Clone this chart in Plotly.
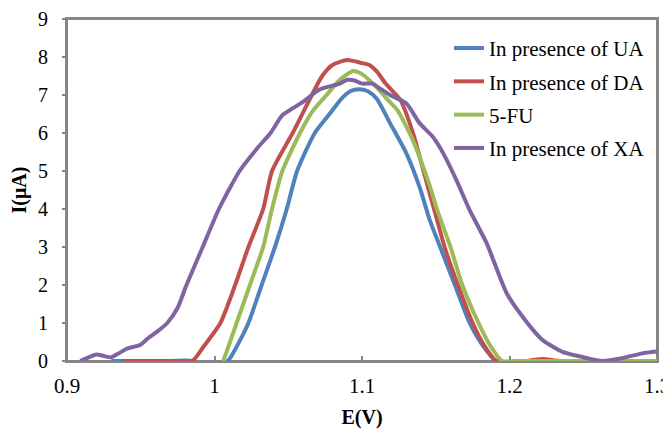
import plotly.graph_objects as go

names = ["In presence of UA", "In presence of DA", "5-FU", "In presence of XA"]
colors = ["#4F81BD", "#C0504D", "#9BBB59", "#8064A2"]

ua_x = [0.93, 0.95, 0.97, 0.985, 0.995, 1.009, 1.016, 1.023, 1.032, 1.041, 1.049, 1.056, 1.068,
        1.078, 1.086, 1.092, 1.098, 1.104, 1.11, 1.119, 1.13, 1.139, 1.146, 1.153, 1.163,
        1.173, 1.182, 1.191, 1.21, 1.25, 1.3]
ua_y = [0, 0, 0, 0, -0.25, 0, 0.45, 1.0, 2.0, 3.0, 4.0, 5.0, 6.0,
        6.5, 6.9, 7.1, 7.15, 7.1, 6.9, 6.26, 5.47, 4.58, 3.7, 3.0, 2.0,
        1.0, 0.4, 0.0, 0, 0, 0]

da_x = [0.938, 0.96, 0.975, 0.985, 0.993, 1.004, 1.014, 1.023, 1.033, 1.039, 1.053, 1.066,
        1.073, 1.08, 1.09, 1.1, 1.105, 1.11, 1.116, 1.126, 1.1346, 1.141, 1.151, 1.156,
        1.165, 1.175, 1.183, 1.191, 1.2, 1.2125, 1.222, 1.235, 1.3]
da_y = [0, 0, 0, 0, 0.4, 1.0, 2.0, 3.0, 4.0, 5.0, 6.0, 7.0,
        7.5, 7.79, 7.92, 7.84, 7.79, 7.62, 7.3, 6.87, 6.0, 5.1, 3.7, 3.0,
        2.0, 1.0, 0.4, 0.0, -0.1, 0.0, 0.05, 0.0, 0.0]

fu_x = [1.006, 1.015, 1.024, 1.033, 1.039, 1.046, 1.058, 1.067, 1.076, 1.085, 1.094, 1.1,
        1.11, 1.118, 1.124, 1.1346, 1.146, 1.151, 1.16, 1.168, 1.179, 1.187, 1.195, 1.21, 1.3]
fu_y = [0, 1, 2, 3, 4, 5, 6, 6.6, 7.0, 7.4, 7.63, 7.55,
        7.2, 6.85, 6.6, 5.8, 4.6, 3.97, 3.0, 2.0, 1.0, 0.4, 0, 0, 0]

xa_x = [0.909, 0.915, 0.92, 0.925, 0.93, 0.935, 0.941, 0.9495, 0.955, 0.962, 0.968, 0.975,
        0.981, 0.992, 1.003, 1.017, 1.029, 1.038, 1.046, 1.053, 1.06, 1.0715, 1.085, 1.09,
        1.095, 1.1, 1.107, 1.113, 1.119, 1.13, 1.139, 1.148, 1.155, 1.164, 1.173, 1.1845,
        1.198, 1.209, 1.2225, 1.236, 1.25, 1.263, 1.277, 1.29, 1.3]
xa_y = [0, 0.1, 0.17, 0.13, 0.1, 0.2, 0.33, 0.42, 0.6, 0.8, 1.0, 1.4,
        2.0, 3.0, 4.0, 5.0, 5.6, 6.0, 6.47, 6.65, 6.82, 7.15, 7.3, 7.4,
        7.38, 7.3, 7.3, 7.15, 7.0, 6.78, 6.26, 5.9, 5.47, 4.76, 3.97, 3.1,
        1.79, 1.16, 0.55, 0.24, 0.1, 0.0, 0.08, 0.2, 0.25]

x_ticks = [0.9, 1.0, 1.1, 1.2, 1.3]
x_ticktext = ["0.9", "1", "1.1", "1.2", "1.3"]
y_ticks = list(range(0, 10))

series = [(ua_x, ua_y), (da_x, da_y), (fu_x, fu_y), (xa_x, xa_y)]

fig = go.Figure()
for i, ((xs, ys), name, col) in enumerate(zip(series, names, colors)):
    fig.add_trace(go.Scatter(
        x=xs, y=ys, mode="lines", name=name, legendgroup=f"g{i}",
        line=dict(color=col, width=4, shape="spline", smoothing=0.6),
    ))

font_family = "Liberation Serif"
axis_col = "#868686"

# plot-area frame (drawn beneath the curves)
fig.add_shape(type="rect", xref="paper", yref="paper", x0=0, y0=0, x1=1, y1=1,
              line=dict(color=axis_col, width=2), fillcolor="rgba(0,0,0,0)", layer="below")

fig.update_layout(
    width=663, height=421,
    margin=dict(l=59, r=14, t=11, b=68, autoexpand=False),
    paper_bgcolor="white", plot_bgcolor="rgba(0,0,0,0)",
    font=dict(family=font_family, size=20, color="black"),
    showlegend=True,
    legend=dict(
        x=0.6475, y=0.974, xanchor="left", yanchor="top",
        bgcolor="rgba(0,0,0,0)", borderwidth=0,
        font=dict(family=font_family, size=21, color="black"),
        traceorder="grouped", tracegroupgap=3,
    ),
    xaxis=dict(
        range=[0.9, 1.3], tickvals=x_ticks, ticktext=x_ticktext,
        showgrid=False, zeroline=False, showline=True, linecolor=axis_col,
        linewidth=2, mirror=True, ticks="inside", ticklen=5, tickcolor=axis_col,
        tickwidth=1.5, layer="below traces", automargin=False,
        tickfont=dict(family=font_family, size=21), ticklabelstandoff=5,
        ticklabeloverflow="allow",
        title=dict(text="<b>E(V)</b>", font=dict(size=20, family=font_family), standoff=26),
    ),
    yaxis=dict(
        range=[0, 9], tickvals=y_ticks,
        showgrid=False, zeroline=False, showline=True, linecolor=axis_col,
        linewidth=2, mirror=True, ticks="outside", ticklen=3, tickcolor=axis_col,
        tickwidth=1.5, layer="below traces", automargin=False,
        tickfont=dict(family=font_family, size=20), ticklabelstandoff=10,
        ticklabeloverflow="allow",
        title=dict(text="<b>I(μA)</b>", font=dict(size=20, family=font_family), standoff=15),
    ),
)

fig.write_html("out.html")
